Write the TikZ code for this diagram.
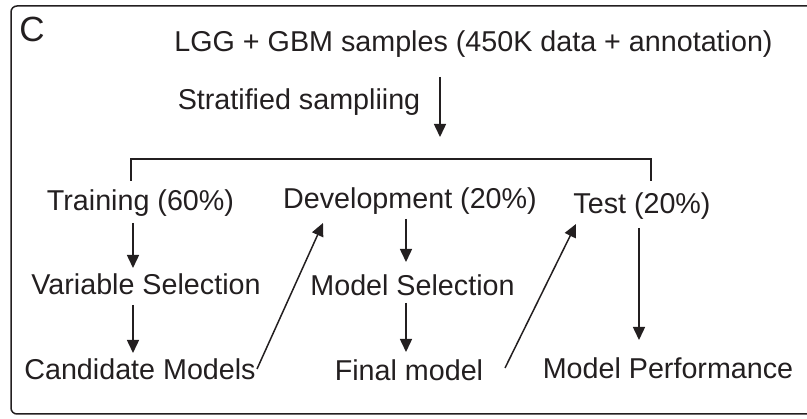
\documentclass[tikz,border=0pt]{standalone}
\usepackage{fontspec}
\setmainfont{Liberation Sans}
\usetikzlibrary{arrows.meta}
\definecolor{ink}{RGB}{35,31,32}
\begin{document}
\begin{tikzpicture}[x=1pt,y=-1pt,
  txt/.style={inner sep=0pt,outer sep=0pt,anchor=base,text=ink,font=\fontsize{28.7}{34}\selectfont},
  arr/.style={draw=ink,line width=1.5pt,-{Triangle[length=13pt,width=12pt]}},
  ln/.style={draw=ink,line width=1.5pt}]
\useasboundingbox (0,0) rectangle (807,419);
\draw[ln,rounded corners=6pt] (812,6) -- (11,6) -- (11,414) -- (812,414);
\node[txt,font=\fontsize{35}{40}\selectfont] (lab) at (32,42) {C};
\node[txt] (src) at (473.5,52) {LGG + GBM samples (450K data + annotation)};
\node[txt] (strat) at (299,110) {Stratified sampliing};
\node[txt] (train) at (140.5,211) {Training (60\%)};
\node[txt] (dev) at (410,209) {Development (20\%)};
\node[txt] (test) at (642,214) {Test (20\%)};
\node[txt] (var) at (146,295) {Variable Selection};
\node[txt] (msel) at (412.5,296) {Model Selection};
\node[txt] (cand) at (140,380) {Candidate Models};
\node[txt] (final) at (409,381) {Final model};
\node[txt] (perf) at (668,379) {Model Performance};
\coordinate (split) at (440,137);
% sampling arrow and bracket
\draw[arr] ([shift={(-33.5,25)}]src.base) -- (split);
\draw[ln] ([shift={(-9.5,-30)}]train.base) |- ([shift={(9,-55)}]test.base) -- ([shift={(9,-33)}]test.base);
% flows
\draw[arr] ([shift={(-7.5,12)}]train.base) -- ([shift={(-13,-27)}]var.base);
\draw[arr] ([shift={(-13,10)}]var.base) -- ([shift={(-7,-27)}]cand.base);
\draw[arr] ([shift={(117,-11)}]cand.base) -- ([shift={(-87,14)}]dev.base);
\draw[arr] ([shift={(-4,10)}]dev.base) -- ([shift={(-6.5,-34)}]msel.base);
\draw[arr] ([shift={(-6.5,7)}]msel.base) -- ([shift={(-3,-29)}]final.base);
\draw[arr] ([shift={(96,-13)}]final.base) -- ([shift={(-66,10)}]test.base);
\draw[arr] ([shift={(-3,14)}]test.base) -- ([shift={(-29,-39)}]perf.base);
\end{tikzpicture}
\end{document}
